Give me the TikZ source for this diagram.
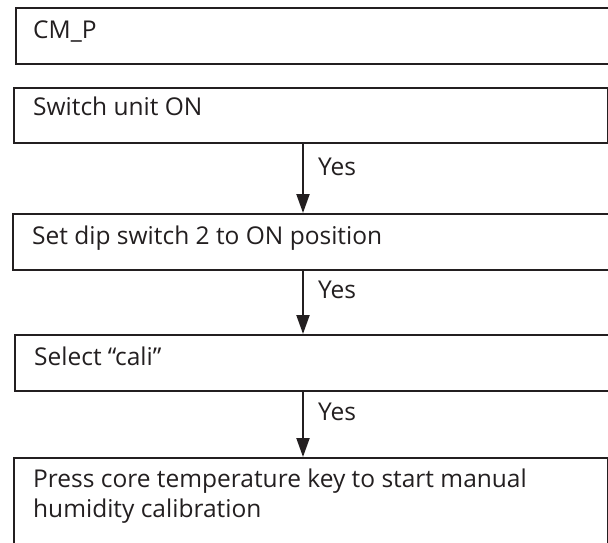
\documentclass[tikz,border=0pt]{standalone}
\usepackage{fontspec}
\setmainfont{Open Sans}
\usetikzlibrary{arrows.meta}
\definecolor{ink}{HTML}{231F20}
\begin{document}
\begin{tikzpicture}[x=1pt,y=-1pt,
  box/.style={draw=ink, line width=2pt, fill=none, inner sep=0pt, anchor=north west},
  txt/.style={text=ink, font=\fontsize{24.5}{30}\selectfont, inner sep=0pt, anchor=base west},
  flow/.style={draw=ink, line width=2pt, -{Triangle[length=19pt,width=13pt]}}]
\useasboundingbox (0,0) rectangle (608,542);
\clip (0,0) rectangle (608,542);
\fill[white] (0,0) rectangle (608,542);
% boxes
\node[box, minimum width=600pt, minimum height=56pt] (b1) at (15,7) {};
\node[box, minimum width=594pt, minimum height=55pt] (b2) at (13,87) {};
\node[box, minimum width=603pt, minimum height=56pt] (b3) at (12,213) {};
\node[box, minimum width=601pt, minimum height=56pt] (b4) at (14,334) {};
\node[box, minimum width=594pt, minimum height=95pt] (b5) at (13,457) {};
% texts
\node[txt] (t1) at (33,38) {CM\_P};
\node[txt] (t2) at (33,115) {Switch unit ON};
\node[txt] (t3) at (32,244) {Set dip switch 2 to ON position};
\node[txt] (t4) at (34,365) {Select “cali”};
\node[txt, align=left] (t5) at (33,517) {Press core temperature key to start manual\\humidity calibration};
% arrows
\coordinate (ax) at (303,0);
\draw[flow] (b2.south -| ax) -- (b3.north -| ax);
\draw[flow] (b3.south -| ax) -- (b4.north -| ax);
\draw[flow] (b4.south -| ax) -- (b5.north -| ax);
% labels
\node[txt] (y1) at (318,175) {Yes};
\node[txt] (y2) at (318,298) {Yes};
\node[txt] (y3) at (318,420) {Yes};
\end{tikzpicture}
\end{document}
